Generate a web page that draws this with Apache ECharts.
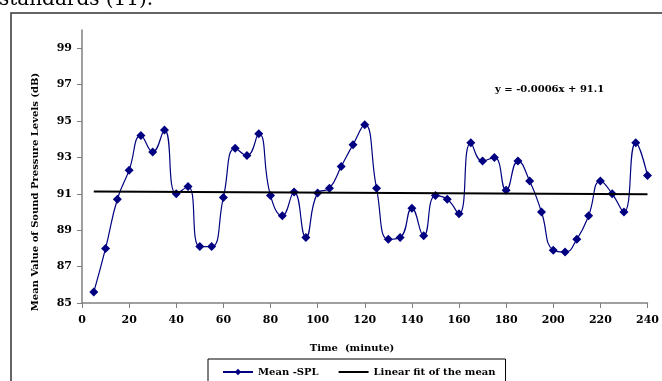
<!DOCTYPE html>
<html>
<head>
<meta charset="utf-8">
<script src="https://cdn.jsdelivr.net/npm/echarts@6/dist/echarts.min.js"></script>
<style>
  html, body { margin: 0; padding: 0; background: #fff; }
  #chart { width: 662px; height: 381px; }
</style>
</head>
<body>
<div id="chart"></div>
<script>
// minutes, mean sound pressure level (dB)
const minutes = [5, 10, 15, 20, 25, 30, 35, 40, 45, 50, 55, 60, 65, 70, 75, 80, 85, 90, 95, 100,
  105, 110, 115, 120, 125, 130, 135, 140, 145, 150, 155, 160, 165, 170, 175, 180, 185, 190, 195, 200,
  205, 210, 215, 220, 225, 230, 235, 240];
const meanSpl = [85.6, 88.0, 90.7, 92.3, 94.2, 93.3, 94.5, 91.0, 91.4, 88.1, 88.1, 90.8, 93.5, 93.1, 94.3, 90.9, 89.8, 91.1, 88.6, 91.05,
  91.3, 92.5, 93.7, 94.8, 91.3, 88.5, 88.6, 90.2, 88.7, 90.9, 90.7, 89.9, 93.8, 92.8, 93.0, 91.2, 92.8, 91.7, 90.0, 87.9,
  87.8, 88.5, 89.8, 91.7, 91.0, 90.0, 93.8, 92.0];
// ends of the linear fit as drawn
const fitX = [5, 240];
const fitY = [91.13, 90.98];

const xTicks = [0, 240, 20];          // min, max, step
const yTicks = [85, 87, 89, 91, 93, 95, 97, 99];

const serif = "DejaVu Serif";

const chart = echarts.init(document.getElementById("chart"));

chart.setOption({
  animation: false,
  grid: { left: 82, right: 8, top: 30, bottom: 78 },
  xAxis: {
    type: "value",
    min: xTicks[0],
    max: xTicks[1],
    interval: xTicks[2],
    axisLine: { lineStyle: { color: "#808080", width: 1.5 } },
    axisTick: { show: true, length: 5, lineStyle: { color: "#808080" } },
    axisLabel: { color: "#000", fontFamily: serif, fontWeight: "bold", fontSize: 11, margin: 12 },
    splitLine: { show: false },
  },
  yAxis: {
    type: "value",
    min: 85,
    max: 100,
    axisLine: { show: true, lineStyle: { color: "#808080", width: 1.5 } },
    axisTick: { show: true, length: 5, customValues: yTicks, lineStyle: { color: "#808080" } },
    axisLabel: { color: "#000", fontFamily: serif, fontWeight: "bold", fontSize: 11, margin: 10, customValues: yTicks },
    splitLine: { show: false },
  },
  legend: {
    left: 208,
    top: 359,
    itemWidth: 30,
    itemHeight: 8,
    itemGap: 19,
    padding: [8, 10, 20, 14],
    borderColor: "#000",
    borderWidth: 1,
    textStyle: { color: "#000", fontFamily: serif, fontWeight: "bold", fontSize: 10 },
    data: [
      "Mean -SPL",
      { name: "Linear fit of the mean", itemStyle: { opacity: 0 } },
    ],
  },
  graphic: [
    {
      type: "rect",
      z: -1,
      shape: { x: 11, y: 13, width: 700, height: 400 },
      style: { fill: "none", stroke: "#333", lineWidth: 1.5 },
    },
    {
      type: "text",
      x: -1,
      y: 9.5,
      style: { text: "standards (11).", fontFamily: serif, fontSize: 20, fill: "#000", verticalAlign: "bottom" },
    },
    {
      type: "text",
      x: 352,
      y: 348,
      style: { text: "Time  (minute)", fontFamily: serif, fontWeight: "bold", fontSize: 10, fill: "#000", align: "center", verticalAlign: "middle" },
    },
    {
      type: "text",
      x: 35,
      y: 192,
      rotation: Math.PI / 2,
      style: { text: "Mean Value of Sound Pressure Levels (dB)", fontFamily: serif, fontWeight: "bold", fontSize: 10, fill: "#000", align: "center", verticalAlign: "middle" },
    },
    {
      type: "text",
      x: 495,
      y: 89,
      style: { text: "y = -0.0006x + 91.1", fontFamily: serif, fontWeight: "bold", fontSize: 10, fill: "#000", verticalAlign: "middle" },
    },
  ],
  series: [
    {
      name: "Mean -SPL",
      type: "line",
      data: minutes.map((m, i) => [m, meanSpl[i]]),
      smooth: 0.5,
      symbol: "diamond",
      symbolSize: 9,
      itemStyle: { color: "#000080" },
      lineStyle: { color: "#000080", width: 1.2 },
      z: 3,
    },
    {
      name: "Linear fit of the mean",
      type: "line",
      data: fitX.map((x, i) => [x, fitY[i]]),
      symbol: "none",
      itemStyle: { color: "#000" },
      lineStyle: { color: "#000", width: 2 },
      z: 4,
    },
  ],
});
</script>
</body>
</html>
